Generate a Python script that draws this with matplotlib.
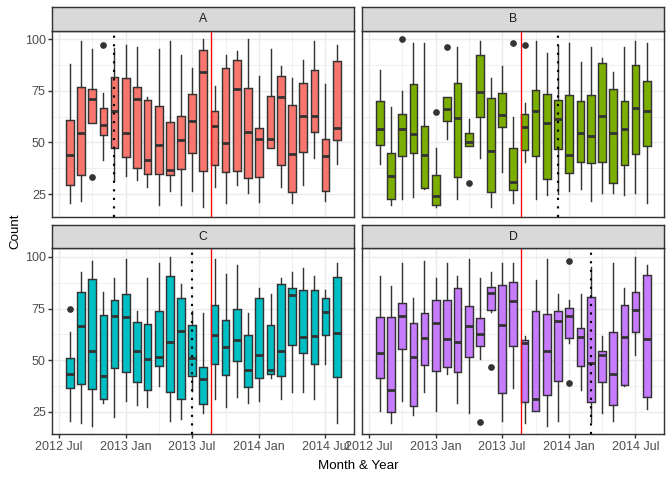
import matplotlib
matplotlib.use('Agg')
import matplotlib.pyplot as plt
import matplotlib.dates as mdates
import pandas as pd

plt.rcParams['font.family'] = ['Liberation Sans', 'DejaVu Sans']

# one box per month, Aug 2012 .. Aug 2014
months = pd.date_range('2012-08-01', periods=25, freq='MS')

# (lower whisker, Q1, median, Q3, upper whisker) per month
a_stats = [
	(20.6, 29.4, 44.0, 60.8, 88.1), (21.5, 34.2, 54.8, 76.8, 99.0), (59.4, 59.4, 71.1, 75.8, 95.2),
	(41.3, 53.5, 58.7, 66.5, 74.0), (32.0, 47.4, 65.5, 81.9, 96.0), (33.5, 43.1, 54.4, 81.1, 97.3),
	(31.6, 37.7, 71.1, 77.1, 96.3), (28.2, 34.7, 41.3, 70.5, 71.9), (19.5, 34.7, 49.0, 67.9, 95.3),
	(26.3, 34.2, 36.5, 59.8, 99.0), (19.5, 37.1, 51.0, 62.6, 92.4), (26.3, 44.8, 60.6, 73.4, 86.1),
	(18.7, 36.1, 84.2, 94.7, 100.0), (28.4, 39.0, 58.1, 65.2, 77.4), (20.6, 35.6, 49.8, 86.0, 92.4),
	(29.2, 36.1, 76.0, 89.8, 94.3), (25.3, 32.7, 55.3, 76.3, 100.0), (21.3, 33.2, 51.9, 56.9, 82.3),
	(47.3, 47.3, 51.5, 72.4, 95.3), (28.2, 39.0, 72.1, 82.1, 87.1), (20.5, 26.0, 44.2, 68.1, 81.3),
	(29.2, 45.3, 62.9, 78.7, 90.0), (42.3, 55.0, 62.6, 85.0, 99.2), (21.5, 26.5, 43.2, 51.6, 78.4),
	(39.4, 51.1, 57.1, 89.4, 97.3),
]
b_stats = [
	(39.4, 48.7, 56.3, 70.0, 85.0), (19.7, 22.7, 33.5, 44.8, 67.3), (22.4, 43.4, 56.3, 63.7, 75.0),
	(23.4, 44.8, 54.2, 78.2, 98.1), (27.4, 27.9, 44.0, 57.9, 98.1), (18.7, 19.7, 23.9, 34.2, 47.4),
	(51.6, 60.3, 66.3, 71.9, 71.9), (22.4, 33.2, 61.9, 78.7, 96.1), (48.2, 48.2, 50.3, 54.5, 61.3),
	(42.3, 62.3, 74.5, 92.3, 99.0), (18.5, 26.0, 46.1, 71.5, 81.1), (35.5, 57.4, 63.4, 73.9, 87.1),
	(20.5, 26.9, 30.6, 47.3, 62.4), (40.3, 46.3, 57.3, 63.7, 69.2), (22.4, 43.4, 65.5, 75.6, 99.2),
	(24.4, 32.3, 59.2, 73.4, 93.2), (25.0, 46.8, 61.6, 70.5, 97.0), (26.3, 35.2, 44.0, 72.9, 98.2),
	(27.3, 40.5, 54.4, 70.0, 88.9), (21.5, 40.0, 52.9, 72.9, 96.3), (25.3, 40.5, 62.9, 88.4, 91.0),
	(25.3, 30.3, 54.4, 75.8, 84.0), (24.4, 39.0, 56.3, 70.0, 96.3), (25.3, 44.4, 66.5, 87.4, 99.0),
	(20.5, 48.2, 65.5, 79.7, 98.1),
]
c_stats = [
	(20.6, 36.6, 43.2, 51.1, 63.7), (19.7, 38.5, 66.5, 83.1, 92.7), (18.2, 36.1, 54.4, 89.4, 98.1),
	(29.4, 31.3, 42.3, 71.9, 83.2), (22.4, 46.3, 71.6, 79.2, 89.8), (30.2, 44.4, 70.8, 82.1, 99.0),
	(28.2, 39.5, 54.4, 68.5, 73.9), (27.3, 35.6, 50.3, 67.6, 89.8), (37.6, 47.3, 51.5, 73.9, 97.3),
	(20.6, 34.7, 58.7, 90.8, 100.0), (21.5, 31.3, 63.9, 80.2, 86.9), (35.0, 42.4, 51.0, 66.9, 74.0),
	(24.4, 28.9, 40.8, 46.8, 72.9), (31.1, 48.2, 62.1, 76.8, 99.0), (27.3, 42.9, 56.3, 69.5, 91.9),
	(32.1, 49.7, 59.7, 74.8, 96.3), (29.4, 37.1, 45.2, 62.3, 72.9), (30.2, 41.5, 52.4, 80.2, 85.0),
	(41.5, 43.4, 45.2, 67.1, 82.1), (31.1, 42.4, 54.4, 86.9, 89.8), (34.5, 57.4, 81.5, 85.0, 92.9),
	(34.5, 53.5, 61.1, 84.0, 94.8), (31.1, 48.2, 61.6, 84.0, 91.0), (48.2, 62.3, 73.2, 80.2, 84.0),
	(19.7, 41.9, 63.1, 90.3, 97.3),
]
d_stats = [
	(25.5, 41.5, 53.4, 71.0, 91.0), (19.7, 24.7, 35.5, 71.0, 86.0), (30.2, 55.5, 71.3, 77.7, 97.3),
	(23.4, 27.9, 51.5, 68.1, 80.2), (34.5, 47.7, 60.6, 72.9, 98.1), (25.5, 44.8, 68.2, 79.2, 89.8),
	(43.4, 46.8, 60.2, 79.2, 97.3), (29.2, 44.4, 59.0, 85.0, 91.0), (24.4, 51.6, 66.3, 76.3, 99.0),
	(50.5, 56.9, 62.4, 70.5, 89.8), (73.2, 74.4, 82.4, 85.5, 92.9), (20.6, 34.2, 66.8, 86.5, 97.3),
	(36.5, 56.9, 78.5, 87.9, 97.3), (19.7, 29.8, 58.2, 59.7, 61.8), (25.2, 25.2, 31.0, 73.9, 89.0),
	(18.2, 33.2, 54.4, 72.4, 99.0), (20.6, 40.0, 68.9, 73.9, 82.1), (58.2, 60.8, 71.3, 75.3, 78.9),
	(35.5, 47.3, 61.1, 65.6, 82.1), (20.0, 29.8, 48.5, 80.5, 95.0), (24.4, 39.5, 52.4, 54.5, 61.8),
	(20.6, 28.4, 43.2, 63.5, 97.3), (37.6, 38.1, 61.1, 76.8, 85.0), (52.4, 63.5, 74.2, 83.1, 100.0),
	(26.3, 32.3, 60.2, 91.3, 96.1),
]

# outliers: month index -> values
a_out = {2: [33.2], 3: [97.1]}
b_out = {2: [100.0], 5: [64.8], 6: [96.1], 8: [30.3], 12: [98.1], 13: [97.1]}
c_out = {0: [74.8]}
d_out = {9: [20.2], 10: [46.8], 17: [98.1, 39.0]}

facets = ['A', 'B', 'C', 'D']
colors = ['#F8766D', '#7CAE00', '#00BFC4', '#C77CFF']
all_stats = [a_stats, b_stats, c_stats, d_stats]
all_out = [a_out, b_out, c_out, d_out]
dotted_dates = ['2012-12-01', '2013-12-01', '2013-07-01', '2014-03-01']
red_date = '2013-08-23'

W, H = 672, 480
fig = plt.figure(figsize=(7, 5), dpi=96)

lefts = [52.3, 362.3]
tops = [30.7, 248.3]
pw, ph, sh = 302, 186, 23.5

pos = mdates.date2num(months.to_pydatetime())
half = 10.5
span = (pos[-1] + half) - (pos[0] - half)
xlim = (pos[0] - half - 0.05 * span, pos[-1] + half + 0.05 * span)

for i, name in enumerate(facets):
	row, col = divmod(i, 2)
	x0 = lefts[col] / W
	y0 = 1 - (tops[row] + ph) / H
	ax = fig.add_axes([x0, y0, pw / W, ph / H])
	sax = fig.add_axes([x0, 1 - tops[row] / H, pw / W, sh / H])

	stats = []
	for j, (lo, q1, med, q3, hi) in enumerate(all_stats[i]):
		stats.append(dict(whislo=lo, q1=q1, med=med, q3=q3, whishi=hi,
						  fliers=all_out[i].get(j, [])))

	ax.bxp(stats, positions=pos, widths=2 * half, patch_artist=True, showcaps=False,
		   manage_ticks=False,
		   boxprops=dict(facecolor=colors[i], edgecolor='#333333', linewidth=1.07),
		   medianprops=dict(color='#333333', linewidth=2.1, solid_capstyle='butt'),
		   whiskerprops=dict(color='#333333', linewidth=1.07),
		   flierprops=dict(marker='o', markerfacecolor='#333333', markeredgecolor='#333333',
						   markersize=4, linestyle='none'))

	ax.axvline(mdates.datestr2num(red_date), color='red', lw=1.0, zorder=5)
	ax.axvline(mdates.datestr2num(dotted_dates[i]), color='black', lw=1.6,
			   linestyle=(0, (1, 3)), zorder=6)

	ax.set_xlim(xlim)
	ax.set_ylim(14.0, 104.2)
	ax.set_axisbelow(True)
	ax.set_yticks([25, 50, 75, 100])
	ax.set_yticks([37.5, 62.5, 87.5], minor=True)
	ax.xaxis.set_major_locator(mdates.MonthLocator(bymonth=[1, 7]))
	ax.xaxis.set_minor_locator(mdates.MonthLocator(bymonth=[4, 10]))
	ax.xaxis.set_major_formatter(mdates.DateFormatter('%Y %b'))
	ax.grid(which='major', color='#EBEBEB', lw=1.07)
	ax.grid(which='minor', color='#EBEBEB', lw=0.55)
	ax.tick_params(which='both', length=0)
	ax.tick_params(which='major', labelsize=9.4, labelcolor='#4D4D4D', color='#333333',
				   width=1.07, length=2.75, pad=2.2)
	if row == 0:
		ax.tick_params(axis='x', which='major', length=0, labelbottom=False)
	if col == 1:
		ax.tick_params(axis='y', which='major', length=0, labelleft=False)
	for s in ax.spines.values():
		s.set_color('#333333')
		s.set_linewidth(1.07)

	sax.set_facecolor('#D9D9D9')
	sax.set_xticks([])
	sax.set_yticks([])
	for s in sax.spines.values():
		s.set_color('#333333')
		s.set_linewidth(1.07)
	sax.text(0.5, 0.5, name, ha='center', va='center', fontsize=9.2, color='#1A1A1A',
			 transform=sax.transAxes)

fig.text(15 / W, 1 - 231 / H, 'Count', rotation=90, ha='center', va='center', fontsize=10)
fig.text(358.3 / W, 1 - 466 / H, 'Month & Year', ha='center', va='center', fontsize=10)

fig.savefig('out.png', dpi=96)
